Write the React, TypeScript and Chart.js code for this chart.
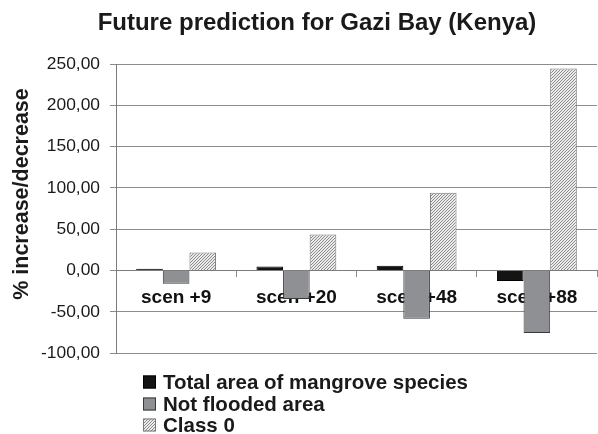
import React, { useEffect, useRef } from "react";
import { Chart, registerables } from "chart.js";

Chart.register(...registerables);

const categories = ["scen +9", "scen +20", "scen +48", "scen +88"];
const mangroveSpecies = [2.0, 4.8, 5.6, -12.9];
const notFlooded = [-16.1, -34.5, -58.5, -75.9];
const class0 = [21.8, 43.6, 94.0, 244.6];
const seriesNames = ["Total area of mangrove species", "Not flooded area", "Class 0"];
const yTicks = [-100, -50, 0, 50, 100, 150, 200, 250];

const chartTitle = "Future prediction for Gazi Bay (Kenya)";
const yTitle = "% increase/decrease";

const FONT = "'Liberation Sans', Arial, Helvetica, sans-serif";

function makeHatch(): CanvasPattern | string {
  const c = document.createElement("canvas");
  c.width = 3;
  c.height = 3;
  const ctx = c.getContext("2d");
  if (!ctx) return "#ccc";
  ctx.fillStyle = "#ececec";
  ctx.fillRect(0, 0, 3, 3);
  ctx.fillStyle = "#8a8a8a";
  // pixel diagonal "/" lines
  ctx.fillRect(2, 0, 1, 1);
  ctx.fillRect(1, 1, 1, 1);
  ctx.fillRect(0, 2, 1, 1);
  const p = ctx.createPattern(c, "repeat");
  return p || "#ccc";
}

export default function App() {
  const ref = useRef<HTMLCanvasElement | null>(null);

  useEffect(() => {
    if (!ref.current) return;
    const hatch = makeHatch();

    const textPlugin = {
      id: "customText",
      afterDraw(chart: any) {
        const ctx = chart.ctx as CanvasRenderingContext2D;
        ctx.save();
        // title
        ctx.fillStyle = "#1a1a1a";
        ctx.font = `bold 24px ${FONT}`;
        ctx.textAlign = "center";
        ctx.textBaseline = "middle";
        ctx.fillText(chartTitle, 317, 23);
        // y title
        ctx.save();
        ctx.translate(22, 194);
        ctx.rotate(-Math.PI / 2);
        ctx.font = `bold 21.5px ${FONT}`;
        ctx.fillText(yTitle, 0, 0);
        ctx.restore();
        // legend
        const ds = chart.data.datasets;
        ctx.font = `bold 20.5px ${FONT}`;
        ctx.textAlign = "left";
        ctx.textBaseline = "middle";
        const rows = [382, 404, 425];
        ds.forEach((d: any, i: number) => {
          const y = rows[i];
          ctx.fillStyle = d.backgroundColor;
          ctx.fillRect(143, y - 6.5, 13, 13);
          ctx.strokeStyle = d.borderColor;
          ctx.lineWidth = 1;
          ctx.strokeRect(143.5, y - 6, 12, 12);
          ctx.fillStyle = "#1a1a1a";
          ctx.fillText(d.label, 163, y + 1);
        });
        ctx.restore();
      },
    };

    const chart = new Chart(ref.current, {
      type: "bar",
      data: {
        labels: categories,
        datasets: [
          {
            label: seriesNames[0],
            data: mangroveSpecies,
            backgroundColor: "#141414",
            borderColor: "#000000",
            borderWidth: 1,
          },
          {
            label: seriesNames[1],
            data: notFlooded,
            backgroundColor: "#8e9094",
            borderColor: "#3a3a3a",
            borderWidth: 1,
          },
          {
            label: seriesNames[2],
            data: class0,
            backgroundColor: hatch as any,
            borderColor: "#7a7a7a",
            borderWidth: 1,
          },
        ],
      },
      options: {
        responsive: false,
        animation: false,
        events: [],
        layout: { padding: { left: 0, top: 64, right: 1, bottom: 81 } },
        datasets: {
          bar: { categoryPercentage: 0.664, barPercentage: 1 },
        },
        plugins: {
          legend: { display: false },
          title: { display: false },
          tooltip: { enabled: false },
        },
        scales: {
          x: {
            position: { y: 0 } as any,
            z: 1,
            grid: {
              offset: true,
              drawOnChartArea: false,
              drawTicks: true,
              tickLength: 6,
              color: "#8c8c8c",
            },
            border: { display: true, color: "#7c7c7c", width: 1 },
            ticks: {
              color: "#111",
              font: { family: FONT, size: 19, weight: "bold" },
              padding: 10,
              maxRotation: 0,
              autoSkip: false,
            },
          },
          y: {
            min: -100,
            max: 250,
            afterBuildTicks: (scale: any) => {
              scale.ticks = yTicks.map((v) => ({ value: v }));
            },
            afterFit: (scale: any) => {
              scale.width = 116;
            },
            grid: {
              color: "#8c8c8c",
              lineWidth: 1,
              tickLength: 6,
            },
            border: { display: true, color: "#7c7c7c", width: 1 },
            ticks: {
              color: "#1a1a1a",
              padding: 10,
              font: { family: FONT, size: 17.4 },
              callback: (v: any) => Number(v).toFixed(2).replace(".", ","),
            },
          },
        },
      },
      plugins: [textPlugin],
    });
    return () => chart.destroy();
  }, []);

  return (
    <div style={{ position: "absolute", left: 0, top: 0, width: 598, height: 434, background: "#fff" }}>
      <canvas ref={ref} width={598} height={434} style={{ width: 598, height: 434, display: "block" }} />
    </div>
  );
}
